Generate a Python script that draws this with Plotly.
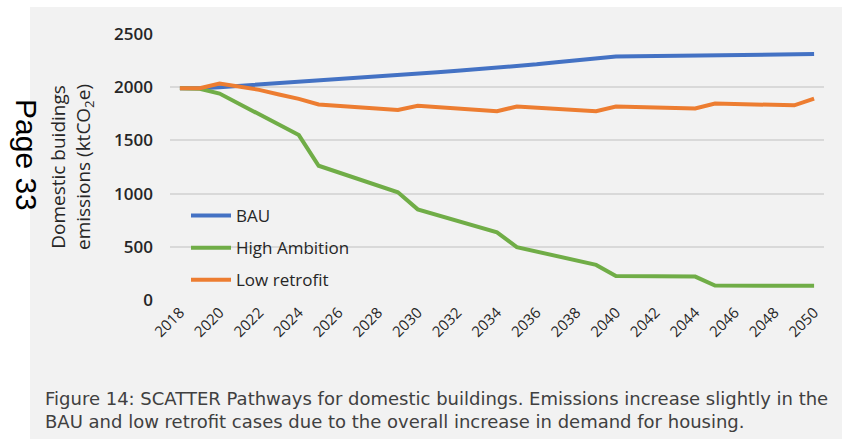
import plotly.graph_objects as go

years = list(range(2018, 2051))
bau = [1990, 1990, 2000, 2012, 2025, 2038, 2050, 2063, 2076, 2089, 2102, 2115, 2128,
       2141, 2154, 2167, 2180, 2198, 2215, 2235, 2255, 2272, 2288, 2290, 2292, 2294,
       2296, 2298, 2300, 2303, 2306, 2309, 2312]
high_ambition = [1990, 1985, 1940, 1840, 1740, 1645, 1550, 1262, 1200, 1138, 1075, 1012, 852,
                 800, 745, 690, 635, 497, 455, 413, 371, 330, 226, 224, 222, 221,
                 220, 136, 135, 134, 134, 133, 133]
low_retrofit = [1990, 1990, 2035, 2005, 1975, 1932, 1890, 1838, 1825, 1812, 1798, 1786, 1825,
                1812, 1800, 1788, 1775, 1818, 1808, 1797, 1786, 1775, 1818, 1813, 1808, 1804,
                1800, 1846, 1842, 1838, 1834, 1830, 1893]
series_names = ["BAU", "High Ambition", "Low retrofit"]
colors = ["#4472C4", "#70AD47", "#ED7D31"]
xtick_vals = list(range(2018, 2051, 2))
ytick_vals = [0, 500, 1000, 1500, 2000, 2500]

W, H = 846, 439
L, R, T, B = 170, 22, 34, 139
pw, ph = W - L - R, H - T - B

def px(x):
    return (x - L) / pw

def py(y):
    return 1 - (y - T) / ph

fig = go.Figure()
for name, vals, c in zip(series_names, [bau, high_ambition, low_retrofit], colors):
    fig.add_trace(go.Scatter(x=years, y=vals, mode="lines", name=name, legendgroup=name,
                             line=dict(color=c, width=4)))

font_main = "Open Sans"
fig.update_layout(
    width=W, height=H,
    margin=dict(l=L, r=R, t=T, b=B, pad=0),
    paper_bgcolor="#f2f2f2",
    plot_bgcolor="#f2f2f2",
    showlegend=True,
    legend=dict(x=px(186), y=py(198), xanchor="left", yanchor="top",
                bgcolor="rgba(0,0,0,0)", font=dict(family=font_main, size=17, color="#262626"),
                tracegroupgap=7, itemwidth=40),
    xaxis=dict(range=[2017.5, 2050.5], tickvals=xtick_vals, tickangle=-45,
               showgrid=False, zeroline=False, showline=False,
               tickfont=dict(family=font_main, size=15, color="#262626")),
    yaxis=dict(range=[0, 2500], tickvals=ytick_vals, showgrid=True, gridcolor="#d9d9d9",
               gridwidth=1.5, zeroline=False, showline=False, ticklabelstandoff=16,
               tickfont=dict(family=font_main, size=17, color="#262626", weight=600),
               title=dict(text="Domestic buidings<br>emissions (ktCO<sub>2</sub>e)",
                          standoff=18,
                          font=dict(family=font_main, size=19, color="#262626"))),
    shapes=[
        dict(type="rect", xref="paper", yref="paper", x0=px(0), x1=px(30), y0=py(H), y1=py(0),
             fillcolor="white", line=dict(width=0), layer="below"),
        dict(type="rect", xref="paper", yref="paper", x0=px(0), x1=px(W), y0=py(7), y1=py(0),
             fillcolor="white", line=dict(width=0), layer="below"),
        dict(type="rect", xref="paper", yref="paper", x0=px(842), x1=px(W), y0=py(H), y1=py(0),
             fillcolor="white", line=dict(width=0), layer="below"),
    ],
    annotations=[
        dict(text="Page 33", textangle=90, xref="paper", yref="paper", x=px(27), y=py(155),
             xanchor="center", yanchor="middle",
             showarrow=False, font=dict(family="Liberation Sans", size=30, color="black")),
        dict(text="Figure 14: SCATTER Pathways for domestic buildings. Emissions increase slightly in the<br>"
                  "BAU and low retrofit cases due to the overall increase in demand for housing.",
             xref="paper", yref="paper", x=px(43), y=py(386), xanchor="left", yanchor="top",
             align="left", showarrow=False,
             font=dict(family="DejaVu Sans", size=18, color="#404040")),
    ],
)

fig.write_html("out.html", config={"displayModeBar": False},
               post_script="document.body.style.margin='0';")
